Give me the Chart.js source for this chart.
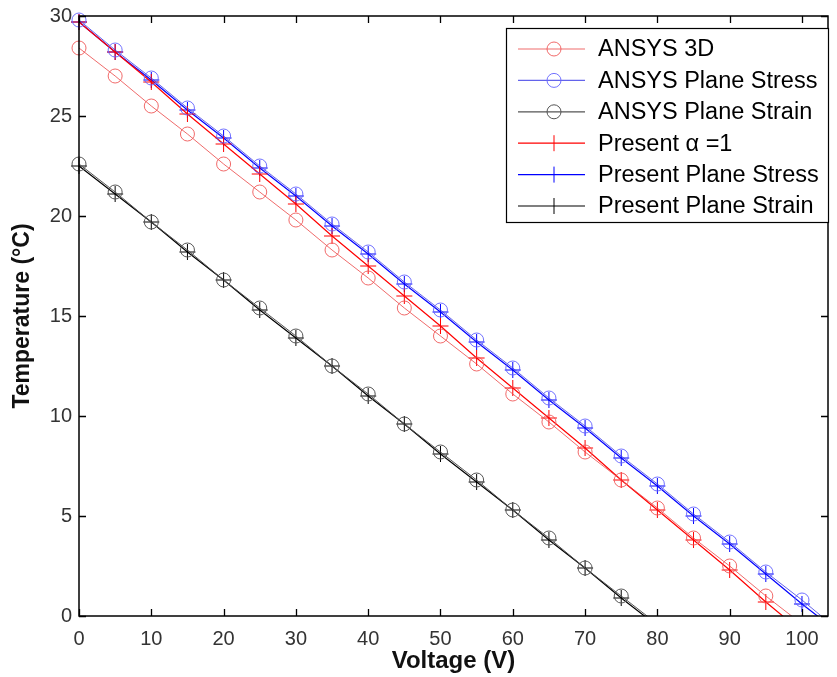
<!DOCTYPE html>
<html>
<head>
<meta charset="utf-8">
<script src="https://cdn.jsdelivr.net/npm/chart.js"></script>
<style>
  html, body { margin: 0; padding: 0; background: #fff; }
  #wrap { width: 837px; height: 677px; }
</style>
</head>
<body>
<div id="wrap"><canvas id="tempChart" width="837" height="677"></canvas></div>
<script>
// Voltage steps (V)
const voltage = [0, 5, 10, 15, 20, 25, 30, 35, 40, 45, 50, 55, 60, 65, 70, 75, 80, 85, 90, 95, 100, 105];

// Temperatures (°C)
const ansys3D = [28.4, 27.0, 25.5, 24.1, 22.6, 21.2, 19.8, 18.3, 16.9, 15.4, 14.0, 12.6, 11.1, 9.7, 8.2, 6.8, 5.4, 3.9, 2.5, 1.0, -0.4];
const ansysStress = [29.8, 28.3, 26.9, 25.4, 24.0, 22.5, 21.1, 19.6, 18.2, 16.7, 15.3, 13.8, 12.4, 10.9, 9.5, 8.0, 6.6, 5.1, 3.7, 2.2, 0.8, -0.7];
const ansysStrain = [22.6, 21.2, 19.7, 18.3, 16.8, 15.4, 14.0, 12.5, 11.1, 9.6, 8.2, 6.8, 5.3, 3.9, 2.4, 1.0, -0.4];
const presentAlpha = [29.7, 28.2, 26.7, 25.1, 23.6, 22.1, 20.6, 19.0, 17.5, 16.0, 14.5, 12.9, 11.4, 9.9, 8.4, 6.8, 5.3, 3.8, 2.3, 0.7, -0.8];
const presentStress = [29.7, 28.2, 26.8, 25.3, 23.9, 22.4, 21.0, 19.5, 18.1, 16.6, 15.2, 13.7, 12.3, 10.8, 9.4, 7.9, 6.5, 5.0, 3.6, 2.1, 0.6, -0.8];
const presentStrain = [22.5, 21.1, 19.7, 18.2, 16.8, 15.3, 13.9, 12.5, 11.0, 9.6, 8.1, 6.7, 5.3, 3.8, 2.4, 0.9, -0.5];

// Tick labels
const xTicks = [0, 10, 20, 30, 40, 50, 60, 70, 80, 90, 100];
const yTicks = [0, 5, 10, 15, 20, 25, 30];

const FONT = "'Liberation Sans', Arial, sans-serif";

function toPoints(temps) {
  return temps.map((t, i) => ({ x: voltage[i], y: t }));
}

function series(label, temps, line, marker, style, width) {
  return {
    label,
    data: toPoints(temps),
    borderColor: line,
    borderWidth: width,
    pointStyle: style,
    pointRadius: style === "circle" ? 7 : 8,
    pointBorderColor: marker,
    pointBorderWidth: 1,
    pointBackgroundColor: "rgba(0,0,0,0)",
    fill: false,
    tension: 0,
    clip: { left: 12, top: 12, right: 0, bottom: 0 },
  };
}

// Inward ticks on all four sides plus the box
const frame = {
  id: "frame",
  afterDatasetsDraw(chart) {
    const { ctx, chartArea: a, scales } = chart;
    const len = 7;
    ctx.save();
    ctx.strokeStyle = "#000";
    ctx.lineWidth = 1.3;
    ctx.beginPath();
    xTicks.forEach(v => {
      const px = Math.round(scales.x.getPixelForValue(v)) + 0.5;
      ctx.moveTo(px, a.bottom); ctx.lineTo(px, a.bottom - len);
      ctx.moveTo(px, a.top); ctx.lineTo(px, a.top + len);
    });
    yTicks.forEach(v => {
      const py = Math.round(scales.y.getPixelForValue(v)) + 0.5;
      ctx.moveTo(a.left, py); ctx.lineTo(a.left + len, py);
      ctx.moveTo(a.right, py); ctx.lineTo(a.right - len, py);
    });
    ctx.stroke();
    ctx.lineWidth = 1.5;
    ctx.strokeRect(a.left, a.top, a.right - a.left, a.bottom - a.top);
    ctx.restore();
  },
};

// MATLAB-style legend box in the upper right
const boxLegend = {
  id: "boxLegend",
  afterDraw(chart) {
    const { ctx, chartArea: a } = chart;
    const sets = chart.data.datasets;
    const w = 322, rowH = 31.4, h = 194;
    const x0 = a.right - w, y0 = a.top + 12;
    ctx.save();
    ctx.fillStyle = "#fff";
    ctx.fillRect(x0, y0, w, h);
    ctx.strokeStyle = "#000";
    ctx.lineWidth = 1.2;
    ctx.strokeRect(x0 + 0.5, y0 + 0.5, w, h);
    ctx.font = "23.5px " + FONT;
    ctx.textBaseline = "middle";
    sets.forEach((ds, i) => {
      const cy = y0 + 21 + i * rowH;
      ctx.strokeStyle = ds.borderColor;
      ctx.lineWidth = 1.2;
      ctx.beginPath();
      ctx.moveTo(x0 + 12, cy); ctx.lineTo(x0 + 79, cy);
      ctx.stroke();
      const mx = x0 + 48;
      ctx.strokeStyle = ds.pointBorderColor;
      ctx.lineWidth = 1;
      ctx.beginPath();
      if (ds.pointStyle === "circle") {
        ctx.arc(mx, cy, 7, 0, Math.PI * 2);
      } else {
        ctx.moveTo(mx, cy - 8); ctx.lineTo(mx, cy + 8);
      }
      ctx.stroke();
      ctx.fillStyle = "#000";
      ctx.fillText(ds.label, x0 + 92, cy + 1);
    });
    ctx.restore();
  },
};

const ctx = document.getElementById("tempChart").getContext("2d");
new Chart(ctx, {
  type: "line",
  data: {
    datasets: [
      series("ANSYS 3D", ansys3D, "rgba(235,70,70,0.8)", "rgba(240,90,90,0.9)", "circle", 1),
      series("ANSYS Plane Stress", ansysStress, "rgba(60,60,230,0.8)", "rgba(100,100,255,0.9)", "circle", 1),
      series("ANSYS Plane Strain", ansysStrain, "#555", "#555", "circle", 1),
      series("Present \u03b1 =1", presentAlpha, "#f00", "#f00", "cross", 1.2),
      series("Present Plane Stress", presentStress, "#00f", "#00f", "cross", 1.2),
      series("Present Plane Strain", presentStrain, "#000", "#000", "cross", 1.2),
    ],
  },
  options: {
    responsive: false,
    animation: false,
    layout: { padding: { top: 16, right: 5, left: 0, bottom: 0 } },
    plugins: {
      legend: { display: false },
      tooltip: { enabled: false },
    },
    scales: {
      x: {
        type: "linear",
        min: 0,
        max: 103.6,
        afterBuildTicks: s => { s.ticks = xTicks.map(v => ({ value: v })); },
        afterFit: s => { s.height = 61; s.paddingLeft = 0; s.paddingRight = 0; },
        grid: { display: false, drawTicks: false },
        border: { display: false },
        ticks: { color: "#333", padding: 11, maxRotation: 0, font: { family: FONT, size: 20 } },
        title: {
          display: true,
          text: "Voltage (V)",
          color: "#111",
          padding: { top: 0, bottom: 1 },
          font: { family: FONT, size: 24, weight: "bold" },
        },
      },
      y: {
        type: "linear",
        min: 0,
        max: 30,
        afterBuildTicks: s => { s.ticks = yTicks.map(v => ({ value: v })); },
        afterFit: s => { s.width = 79; s.paddingTop = 0; s.paddingBottom = 0; },
        grid: { display: false, drawTicks: false },
        border: { display: false },
        ticks: { color: "#333", padding: 7, font: { family: FONT, size: 20 } },
        title: {
          display: true,
          text: "Temperature (\u00b0C)",
          color: "#111",
          padding: { top: 9, bottom: 0 },
          font: { family: FONT, size: 23, weight: "bold" },
        },
      },
    },
  },
  plugins: [frame, boxLegend],
});
</script>
</body>
</html>
